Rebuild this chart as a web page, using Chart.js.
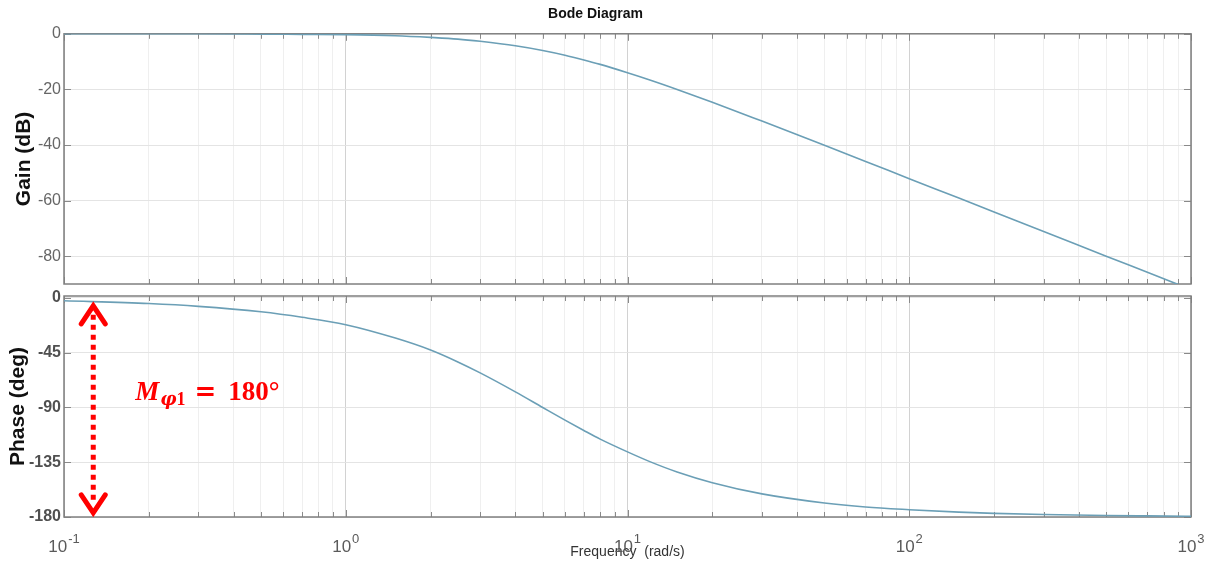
<!DOCTYPE html>
<html>
<head>
<meta charset="utf-8">
<script src="https://cdn.jsdelivr.net/npm/chart.js@4"></script>
<style>
  html, body { margin: 0; padding: 0; background: #fff; }
  #wrap { position: relative; width: 1221px; height: 565px; }
  #gainBox { position: absolute; left: 0; top: 0; width: 1221px; height: 290px; }
  #phaseBox { position: absolute; left: 0; top: 290px; width: 1221px; height: 275px; }
</style>
</head>
<body>
<div id="wrap">
  <div id="gainBox"><canvas id="gainChart"></canvas></div>
  <div id="phaseBox"><canvas id="phaseChart"></canvas></div>
</div>
<script>
// frequencies (rad/s) and the values
var freqs = [0.1, 0.2, 0.3, 0.5, 0.7, 1, 1.5, 2, 2.5, 3, 4, 5, 6, 7, 8, 10, 12, 15, 20, 30, 50, 70, 100, 150, 200, 300, 500, 700, 1000];
var gainDb = [0.0, 0.0, 0.0, -0.1, -0.2, -0.3, -0.7, -1.3, -1.9, -2.7, -4.3, -6.0, -7.7, -9.4, -11.0, -14.0, -16.6, -20.0, -24.6, -31.4, -40.1, -45.9, -52.1, -59.1, -64.1, -71.1, -80.0, -85.8, -92.0];
var phaseDeg = [-2.3, -4.6, -6.9, -11.4, -15.9, -22.0, -33.0, -42.8, -52.6, -61.6, -77.2, -90.0, -100.4, -108.9, -116.0, -126.5, -134.5, -143.0, -151.8, -161.0, -168.5, -171.8, -174.0, -176.0, -177.0, -178.0, -178.8, -179.1, -179.4];

// axis ticks
var decadeTicks = [0.1, 1, 10, 100, 1000];
var decadeBase = '10';
var decadeExps = ['-1', '0', '1', '2', '3'];
var gainTicks = [-80, -60, -40, -20, 0];
var phaseTicks = [-180, -135, -90, -45, 0];

// phase margin annotation
var arrowFreq = 0.127;
var arrowFrom = -4;
var arrowTo = -179;
var noteFreq = 0.179;
var notePhase = -84;
var noteMain = 'M';
var noteSub = '\u03C6';
var noteSubNum = '1';
var noteValue = '180\u00B0';

var minorTicks = [];
decadeTicks.forEach(function (d, i) {
  if (i === decadeTicks.length - 1) { minorTicks.push(d); return; }
  for (var m = 1; m <= 9; m++) minorTicks.push(+(d * m).toPrecision(3));
});

function isDecade(v) {
  return decadeTicks.some(function (d) { return Math.abs(d - v) / d < 1e-6; });
}

var sans = '"Liberation Sans", Arial, sans-serif';
var lineColor = '#6b9fb6';

var boxPlugin = {
  id: 'box',
  beforeDatasetsDraw: function (chart) {
    var a = chart.chartArea, ctx = chart.ctx;
    var xs = chart.scales.x, ys = chart.scales.y;
    ctx.save();
    ctx.strokeStyle = '#8a8a8a';
    ctx.lineWidth = 1;
    xs.ticks.forEach(function (t) {
      var px = Math.round(xs.getPixelForValue(t.value)) + 0.5;
      var len = isDecade(t.value) ? 7 : 5;
      ctx.beginPath();
      ctx.moveTo(px, a.top); ctx.lineTo(px, a.top + len);
      ctx.moveTo(px, a.bottom); ctx.lineTo(px, a.bottom - len);
      ctx.stroke();
    });
    ys.ticks.forEach(function (t) {
      var py = Math.round(ys.getPixelForValue(t.value)) + 0.5;
      ctx.beginPath();
      ctx.moveTo(a.left, py); ctx.lineTo(a.left + 7, py);
      ctx.moveTo(a.right, py); ctx.lineTo(a.right - 7, py);
      ctx.stroke();
    });
    ctx.lineWidth = 1.5;
    ctx.strokeStyle = '#7f7f7f';
    ctx.strokeRect(a.left, a.top, a.right - a.left, a.bottom - a.top);
    ctx.restore();
  }
};

// decade labels with a real raised exponent
var decadeLabelPlugin = {
  id: 'decadeLabels',
  afterDraw: function (chart) {
    var ctx = chart.ctx, xs = chart.scales.x, a = chart.chartArea;
    ctx.save();
    ctx.fillStyle = '#5a5a5a';
    ctx.textBaseline = 'alphabetic';
    ctx.textAlign = 'left';
    decadeTicks.forEach(function (d, i) {
      var px = xs.getPixelForValue(d);
      ctx.font = '17px ' + sans;
      var w1 = ctx.measureText(decadeBase).width;
      ctx.font = '13px ' + sans;
      var w2 = ctx.measureText(decadeExps[i]).width;
      var x0 = px - (w1 + w2 + 1) / 2;
      ctx.font = '17px ' + sans;
      ctx.fillText(decadeBase, x0, a.bottom + 35);
      ctx.font = '13px ' + sans;
      ctx.fillText(decadeExps[i], x0 + w1 + 1, a.bottom + 26);
    });
    ctx.restore();
  }
};

var notePlugin = {
  id: 'note',
  afterDatasetsDraw: function (chart) {
    var ctx = chart.ctx, xs = chart.scales.x, ys = chart.scales.y;
    var ax = xs.getPixelForValue(arrowFreq);
    var yTop = ys.getPixelForValue(arrowFrom);
    var yBot = ys.getPixelForValue(arrowTo);
    ctx.save();
    ctx.strokeStyle = '#ff0000';
    ctx.fillStyle = '#ff0000';
    // dotted shaft
    ctx.lineWidth = 5;
    ctx.setLineDash([5, 5]);
    ctx.beginPath();
    ctx.moveTo(ax, yTop + 12);
    ctx.lineTo(ax, yBot - 12);
    ctx.stroke();
    ctx.setLineDash([]);
    // heads
    ctx.lineCap = 'round';
    ctx.beginPath();
    ctx.moveTo(ax - 12, yTop + 21); ctx.lineTo(ax, yTop + 3); ctx.lineTo(ax + 12, yTop + 21);
    ctx.moveTo(ax - 12, yBot - 21); ctx.lineTo(ax, yBot - 3); ctx.lineTo(ax + 12, yBot - 21);
    ctx.stroke();
    // label
    var x = xs.getPixelForValue(noteFreq);
    var y = ys.getPixelForValue(notePhase);
    ctx.textBaseline = 'alphabetic';
    ctx.textAlign = 'left';
    ctx.font = 'italic bold 27px "Liberation Serif", serif';
    ctx.fillText(noteMain, x, y);
    x += ctx.measureText(noteMain).width + 1;
    ctx.font = 'italic bold 18px "DejaVu Serif", serif';
    ctx.fillText(noteSub, x, y + 5);
    x += ctx.measureText(noteSub).width;
    ctx.font = 'bold 18px "Liberation Serif", serif';
    ctx.fillText(noteSubNum, x, y + 5);
    x += ctx.measureText(noteSubNum).width + 9;
    ctx.font = 'bold 26px "DejaVu Serif", serif';
    ctx.fillText('=', x, y);
    x += ctx.measureText('=').width + 12;
    ctx.font = 'bold 27px "Liberation Serif", serif';
    ctx.fillText(noteValue, x, y);
    ctx.restore();
  }
};

function xAxis(showLabels) {
  return {
    type: 'logarithmic',
    min: 0.1,
    max: 1000,
    afterBuildTicks: function (scale) {
      scale.ticks = minorTicks.map(function (v) { return { value: v }; });
    },
    afterFit: function (scale) {
      scale.height = showLabels ? 48 : 0;
      scale.paddingLeft = 0;
      scale.paddingRight = 0;
    },
    border: { display: false },
    grid: {
      drawTicks: false,
      lineWidth: 1,
      color: function (c) { return c.tick && isDecade(c.tick.value) ? '#d2d2d2' : '#efefef'; }
    },
    ticks: { display: false },
    title: {
      display: showLabels,
      text: 'Frequency  (rad/s)',
      color: '#333',
      font: { family: sans, size: 14 },
      padding: { top: 0, bottom: 4 }
    }
  };
}

function yAxis(min, max, ticks, title, titlePad, bold) {
  return {
    min: min,
    max: max,
    afterBuildTicks: function (scale) {
      scale.ticks = ticks.map(function (v) { return { value: v }; });
    },
    afterFit: function (scale) {
      scale.width = 64;
      scale.paddingTop = 0;
      scale.paddingBottom = 0;
    },
    border: { display: false },
    grid: { drawTicks: false, color: '#e4e4e4', lineWidth: 1 },
    ticks: {
      padding: 3,
      color: bold ? '#505050' : '#666',
      font: { family: sans, size: 16, weight: bold ? 'bold' : 'normal' }
    },
    title: {
      display: true,
      text: title,
      color: '#111',
      font: { family: sans, size: 21, weight: 'bold' },
      padding: { top: titlePad, bottom: 0 }
    }
  };
}

function series(values) {
  return freqs.map(function (f, i) { return { x: f, y: values[i] }; });
}

Chart.defaults.font.family = sans;

new Chart(document.getElementById('gainChart'), {
  type: 'line',
  data: {
    datasets: [{
      data: series(gainDb),
      borderColor: lineColor,
      borderWidth: 1.6,
      pointRadius: 0,
      cubicInterpolationMode: 'monotone'
    }]
  },
  options: {
    responsive: true,
    maintainAspectRatio: false,
    animation: false,
    layout: { padding: { left: 0, right: 30, top: 0, bottom: 6 } },
    plugins: {
      legend: { display: false },
      tooltip: { enabled: false },
      title: {
        display: true,
        text: 'Bode Diagram',
        color: '#111',
        font: { family: sans, size: 14, weight: 'bold' },
        padding: { top: 6, bottom: 11 }
      }
    },
    scales: {
      x: xAxis(false),
      y: yAxis(-90, 0, gainTicks, 'Gain (dB)', 12, false)
    }
  },
  plugins: [boxPlugin]
});

new Chart(document.getElementById('phaseChart'), {
  type: 'line',
  data: {
    datasets: [{
      data: series(phaseDeg),
      borderColor: lineColor,
      borderWidth: 1.6,
      pointRadius: 0,
      cubicInterpolationMode: 'monotone'
    }]
  },
  options: {
    responsive: true,
    maintainAspectRatio: false,
    animation: false,
    layout: { padding: { left: 0, right: 30, top: 6, bottom: 0 } },
    plugins: {
      legend: { display: false },
      tooltip: { enabled: false }
    },
    scales: {
      x: xAxis(true),
      y: yAxis(-180, 1.6, phaseTicks, 'Phase (deg)', 6, true)
    }
  },
  plugins: [boxPlugin, notePlugin, decadeLabelPlugin]
});
</script>
</body>
</html>
